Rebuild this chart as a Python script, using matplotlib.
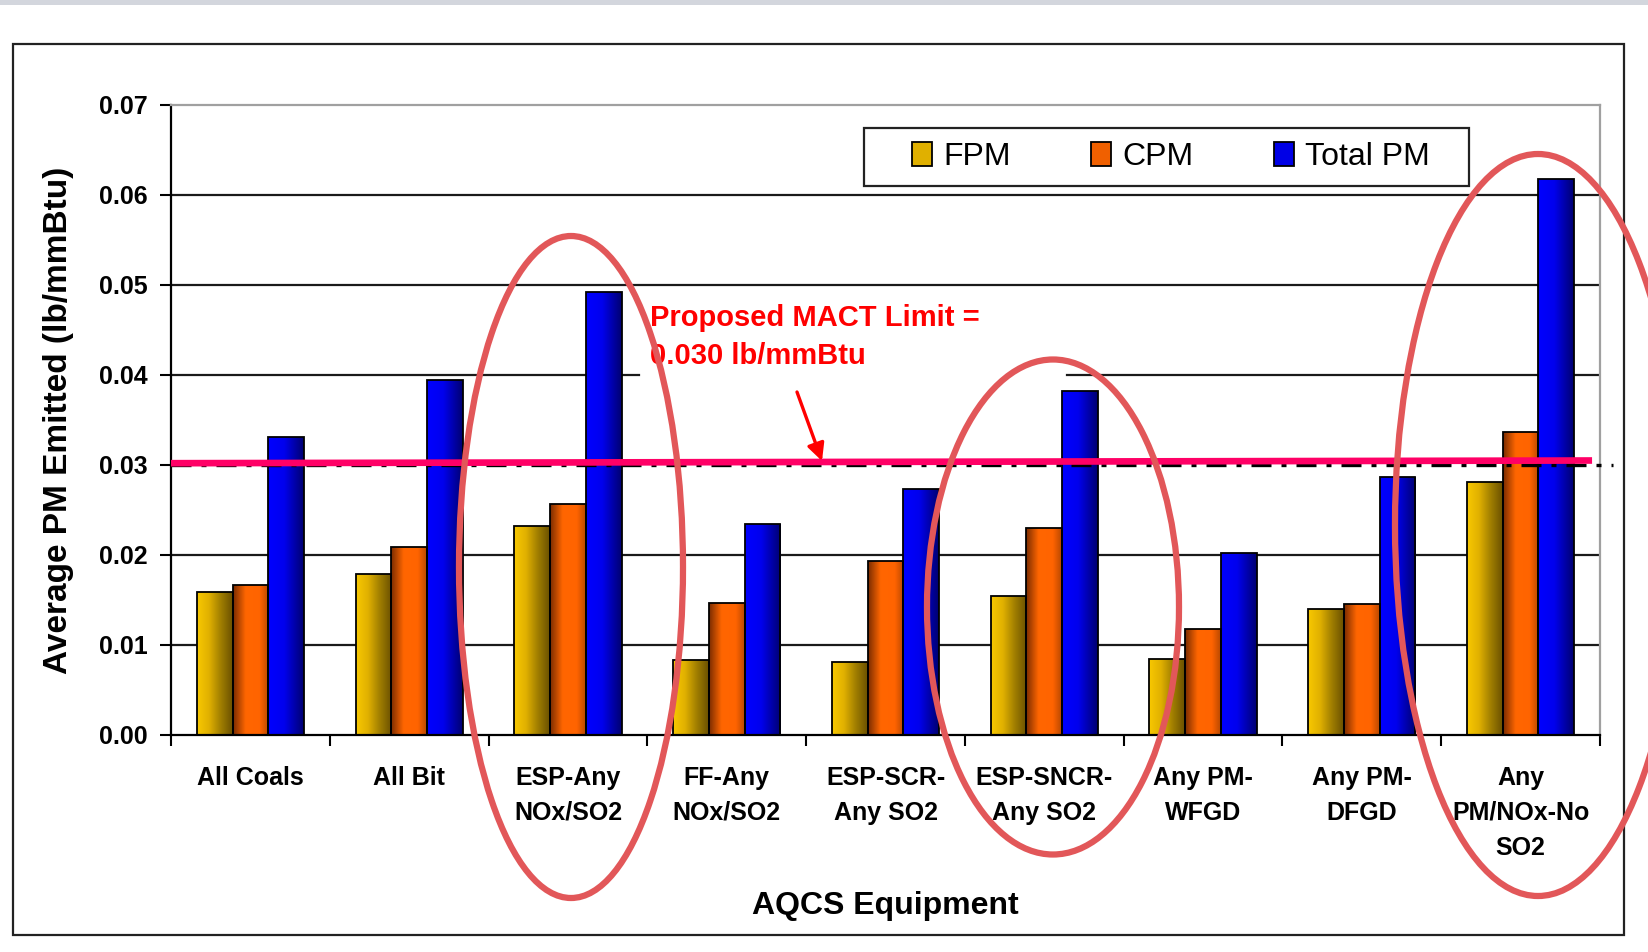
import matplotlib
matplotlib.use('Agg')
import matplotlib.pyplot as plt
import numpy as np
from matplotlib.colors import LinearSegmentedColormap
from matplotlib.patches import Patch, Rectangle, Ellipse

plt.rcParams['font.family'] = ['Liberation Sans', 'DejaVu Sans']

categories = ['All Coals', 'All Bit', 'ESP-Any\nNOx/SO2', 'FF-Any\nNOx/SO2',
              'ESP-SCR-\nAny SO2', 'ESP-SNCR-\nAny SO2', 'Any PM-\nWFGD',
              'Any PM-\nDFGD', 'Any\nPM/NOx-No\nSO2']
fpm = [0.0159, 0.0179, 0.0232, 0.0083, 0.0081, 0.0154, 0.0084, 0.0140, 0.0281]
cpm = [0.0167, 0.0209, 0.0257, 0.0147, 0.0193, 0.0230, 0.0118, 0.0146, 0.0337]
total_pm = [0.0331, 0.0394, 0.0492, 0.0235, 0.0273, 0.0382, 0.0202, 0.0287, 0.0618]
series_names = ['FPM', 'CPM', 'Total PM']
yticks = [0.00, 0.01, 0.02, 0.03, 0.04, 0.05, 0.06, 0.07]
mact_limit = 0.030

W, H = 1648, 952
fig = plt.figure(figsize=(W / 100, H / 100), dpi=100)
ax = fig.add_axes([171 / W, 1 - 735 / H, 1429 / W, 630 / H])

cmaps = [
    LinearSegmentedColormap.from_list('fpm', ['#f8c800', '#e0b000', '#a07e00', '#6a5000']),
    LinearSegmentedColormap.from_list('cpm', [(0, '#7a2c00'), (0.35, '#ff6600'),
                                              (0.75, '#ff6400'), (1, '#b84800')]),
    LinearSegmentedColormap.from_list('tot', [(0, '#0000ff'), (0.45, '#0000ee'),
                                              (1, '#000070')]),
]
legend_cols = ['#e0b000', '#f06000', '#0000e6']

x = np.arange(len(categories))
bw = 0.225
grad = np.linspace(0, 1, 128).reshape(1, -1)
for i, vals in enumerate([fpm, cpm, total_pm]):
    bars = ax.bar(x + (i - 1) * bw, vals, bw, facecolor='none', edgecolor='black',
                  linewidth=1.3, zorder=3)
    for b in bars:
        x0 = b.get_x()
        im = ax.imshow(grad, cmap=cmaps[i], extent=(x0, x0 + b.get_width(), 0, b.get_height()),
                       aspect='auto', interpolation='bicubic', zorder=2.5)
        im.set_clip_path(b)

# grid lines (0.04 is broken by the annotation box)
for v in [0.01, 0.02, 0.05, 0.06]:
    ax.axhline(v, color='#1a1a1a', lw=1.6, zorder=1)
ax.axhline(0.04, xmax=0.3275, color='#1a1a1a', lw=1.6, zorder=1)
ax.axhline(0.04, xmin=0.627, color='#1a1a1a', lw=1.6, zorder=1)

# limit lines
ax.plot([-0.5, 8.58], [mact_limit, mact_limit], color='black', lw=2.4,
        linestyle=(0, (6, 3, 1.5, 3)), zorder=3.6, clip_on=False)
ax.plot([-0.5, 8.45], [mact_limit + 0.0002, mact_limit + 0.0005], color='#ff0066',
        lw=4.8, solid_capstyle='butt', zorder=4, clip_on=False)

ax.set_xlim(-0.5, 8.5)
ax.set_ylim(0, 0.07)
ax.set_yticks(yticks)
ax.set_yticklabels([f'{v:.2f}' for v in yticks])
ax.set_xticks(np.arange(len(categories) + 1) - 0.5)
ax.set_xticklabels([])
ax.set_xticks(x, minor=True)
ax.set_xticklabels(categories, minor=True, linespacing=1.58)
ax.tick_params(axis='x', which='minor', length=0, pad=22, labelsize=18)
ax.tick_params(axis='x', which='major', length=8, width=1.5, direction='out')
ax.tick_params(axis='y', length=8, width=1.5, direction='out', pad=9, labelsize=18)
for lab in ax.get_xticklabels(minor=True) + ax.get_yticklabels():
    lab.set_fontweight('bold')

for s in ['left', 'bottom']:
    ax.spines[s].set_linewidth(1.6)
    ax.spines[s].set_color('black')
for s in ['top', 'right']:
    ax.spines[s].set_linewidth(1.6)
    ax.spines[s].set_color('#a0a0a0')

ax.set_ylabel('Average PM Emitted (lb/mmBtu)', fontsize=24, fontweight='bold')
ax.yaxis.set_label_coords(-0.079, 0.5)
ax.yaxis.label.set_va('center')
ax.set_xlabel('AQCS Equipment', fontsize=23, fontweight='bold')
ax.xaxis.set_label_coords(0.5, -0.271)
ax.xaxis.label.set_va('center')

handles = [Patch(facecolor=c, edgecolor='black', linewidth=1.3) for c in legend_cols]
ax.legend(handles, series_names, loc='center', ncol=3, frameon=False, fontsize=23,
          handlelength=0.63, handleheight=0.75, handletextpad=0.36, columnspacing=2.5,
          borderpad=0, bbox_to_anchor=(1171 / W, 1 - 157 / H),
          bbox_transform=fig.transFigure)

# overlay in pixel coordinates for frame, annotation and hand-drawn ellipses
ov = fig.add_axes([0, 0, 1, 1], zorder=10)
ov.set_xlim(0, W)
ov.set_ylim(H, 0)
ov.axis('off')
ov.patch.set_alpha(0)
ov.add_patch(Rectangle((0, 0), W, 5, color='#d3d6dd', lw=0))
ov.add_patch(Rectangle((13, 44), 1611, 891, fill=False, edgecolor='#222222', lw=1.6))
ov.add_patch(Rectangle((864, 128), 605, 58, fill=False, edgecolor='#222222', lw=1.6))
ov.text(650, 337, 'Proposed MACT Limit =\n0.030 lb/mmBtu', color='#ff0000', fontsize=21,
        fontweight='bold', ha='left', va='center', linespacing=1.5, zorder=3)
ov.annotate('', xy=(822, 461), xytext=(797, 392),
            arrowprops=dict(arrowstyle='-|>', color='#ff0000', lw=2.4, mutation_scale=26,
                            shrinkA=0, shrinkB=0), zorder=3)
for cx, cy, ew, eh in [(571, 567, 224, 662), (1053, 607, 252, 495), (1538, 525, 286, 742)]:
    ov.add_patch(Ellipse((cx, cy), ew, eh, fill=False, edgecolor='#e25759', lw=4.5, zorder=5))

fig.savefig('out.png', dpi=100)
